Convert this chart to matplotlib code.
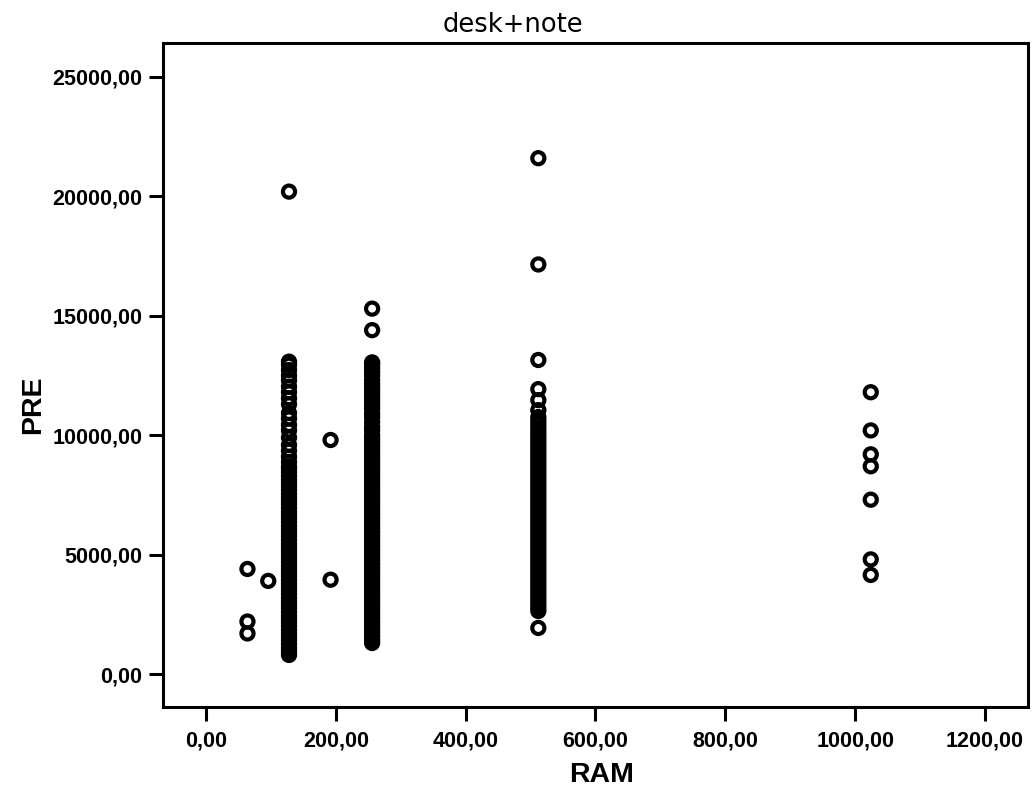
import numpy as np
import matplotlib
matplotlib.use('Agg')
import matplotlib.pyplot as plt
from matplotlib.ticker import FuncFormatter

# RAM levels and the PRE values
ram_levels = [64, 96, 128, 192, 256, 512, 1024]

pre_64  = [4400, 2200, 1700]
pre_96  = [3900]
pre_128 = [800, 950, 1100, 1250, 1400, 1550, 1700, 1850, 2000, 2150, 2300, 2450, 2600,
           2750, 2900, 3050, 3200, 3350, 3500, 3650, 3800, 3950, 4100, 4250, 4400, 4550,
           4700, 4850, 5000, 5150, 5300, 5450, 5600, 5750, 5900, 6050, 6200, 6350, 6500,
           6650, 6800, 6950, 7100, 7250, 7400, 7550, 7700, 7850, 8000, 8150, 8300, 8450,
           8600, 8680, 8880, 9100, 9350, 9590, 9900, 10200, 10430, 10700, 10930, 11300,
           11550, 11800, 12030, 12300, 12500, 12730, 12950, 13080, 20200]
pre_192 = [9800, 3950]
pre_256 = [1300, 1450, 1600, 1750, 1900, 2050, 2200, 2350, 2500, 2650, 2800, 2950, 3100,
           3250, 3400, 3550, 3700, 3850, 4000, 4150, 4300, 4450, 4600, 4750, 4900, 5050,
           5200, 5350, 5500, 5650, 5800, 5950, 6100, 6250, 6400, 6550, 6700, 6850, 7000,
           7150, 7300, 7450, 7600, 7750, 7900, 8050, 8200, 8350, 8500, 8650, 8800, 8950,
           9100, 9250, 9400, 9550, 9700, 9850, 10000, 10200, 10350, 10550, 10750, 10900,
           11100, 11250, 11400, 11550, 11700, 11850, 12000, 12150, 12300, 12500, 12650,
           12800, 12950, 13050, 14400, 15300]
pre_512 = [1930, 2640, 2790, 2940, 3090, 3240, 3390, 3540, 3690, 3840, 3990, 4140, 4290,
           4440, 4590, 4740, 4890, 5040, 5190, 5340, 5490, 5640, 5790, 5940, 6090, 6240,
           6390, 6540, 6690, 6840, 6990, 7140, 7290, 7440, 7590, 7740, 7890, 8040, 8190,
           8340, 8490, 8640, 8790, 8940, 9090, 9240, 9390, 9540, 9690, 9840, 9990, 10140,
           10290, 10450, 10600, 10760, 11050, 11470, 11930, 13150, 17150, 21600]
pre_1024 = [11800, 10200, 9200, 8700, 7300, 4800, 4150]

pre_cols = [pre_64, pre_96, pre_128, pre_192, pre_256, pre_512, pre_1024]

x_ticks = [0, 200, 400, 600, 800, 1000, 1200]
y_ticks = [0, 5000, 10000, 15000, 20000, 25000]

ram = []
pre = []
for r, vals in zip(ram_levels, pre_cols):
    ram += [r] * len(vals)
    pre += vals

fig, ax = plt.subplots(figsize=(10.32, 7.9), dpi=100)
plt.subplots_adjust(left=0.158, right=0.996, bottom=0.105, top=0.9456)

ax.scatter(ram, pre, s=76, facecolors='none', edgecolors='black', linewidths=3.0)

ax.set_xlim(-66, 1266)
ax.set_ylim(-1382, 26424)
ax.set_xticks(x_ticks)
ax.set_yticks(y_ticks)

comma = FuncFormatter(lambda v, p: ('%.2f' % v).replace('.', ','))
ax.xaxis.set_major_formatter(comma)
ax.yaxis.set_major_formatter(comma)

for sp in ax.spines.values():
    sp.set_linewidth(2.2)
ax.tick_params(direction='out', length=10, width=2.2, labelsize=15.5, pad=5)
ax.tick_params(axis='x', pad=7)
for lab in ax.get_xticklabels() + ax.get_yticklabels():
    lab.set_family('Liberation Sans')
    lab.set_fontweight('bold')

fig.text(513 / 1032, 1 - 32 / 790, 'desk+note', ha='center', va='baseline',
         fontsize=18.5, family='DejaVu Sans')
fig.text(602 / 1032, 1 - 782 / 790, 'RAM', ha='center', va='baseline',
         fontsize=20.5, fontweight='bold', family='Liberation Sans')
fig.text(33 / 1032, 1 - 376 / 790, 'PRE', ha='right', va='center', rotation=90,
         rotation_mode='anchor', fontsize=20.5, fontweight='bold', family='Liberation Sans')

plt.savefig('out.png', dpi=100)
